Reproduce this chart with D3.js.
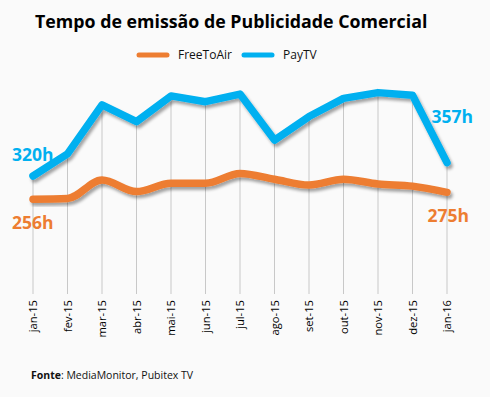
<!DOCTYPE html>
<html>
<head>
<meta charset="utf-8">
<style>
  body { margin: 0; background: #fafafa; }
  text { font-family: "Open Sans", "Noto Sans", sans-serif; }
</style>
</head>
<body>
<script src="https://d3js.org/d3.v7.min.js"></script>
<script>
  // months and monthly airtime (hours)
  var months = ["jan-15", "fev-15", "mar-15", "abr-15", "mai-15", "jun-15", "jul-15",
                "ago-15", "set-15", "out-15", "nov-15", "dez-15", "jan-16"];
  var freeToAir = [256, 258, 309, 277, 300, 300, 327, 311, 295, 311, 298, 292, 275];
  var payTV = [320, 381, 516, 470, 541, 525, 546, 419, 484, 534, 550, 543, 357];

  var orange = "#ED7D31", blue = "#00B0F0";
  var width = 490, height = 397;

  var svg = d3.select("body").append("svg")
      .attr("width", width)
      .attr("height", height);

  svg.append("rect").attr("width", width).attr("height", height).attr("fill", "#fafafa");

  var defs = svg.append("defs");
  var shadow = defs.append("filter").attr("id", "shadow")
      .attr("x", "-10%").attr("y", "-30%").attr("width", "120%").attr("height", "160%");
  shadow.append("feDropShadow")
      .attr("dx", 2).attr("dy", 3).attr("stdDeviation", 1.5)
      .attr("flood-color", "#000").attr("flood-opacity", 0.35);

  var x = d3.scalePoint().domain(months).range([33, 447]);
  var y = d3.scaleLinear().domain([0, 600]).range([292, 74.5]);
  var bottom = 294;

  // title
  svg.append("text")
      .attr("x", 35).attr("y", 28)
      .attr("font-size", "17.8px").attr("font-weight", "bold")
      .attr("fill", "#000")
      .text("Tempo de emissão de Publicidade Comercial");

  // legend
  var legend = [
    {name: "FreeToAir", color: orange, x: 139, tx: 178},
    {name: "PayTV", color: blue, x: 244, tx: 283}
  ];
  legend.forEach(function(l) {
    svg.append("line")
        .attr("x1", l.x).attr("x2", l.x + 28)
        .attr("y1", 55).attr("y2", 55)
        .attr("stroke", l.color).attr("stroke-width", 5)
        .attr("stroke-linecap", "round");
    svg.append("text")
        .attr("x", l.tx).attr("y", 59)
        .attr("font-size", "12px").attr("fill", "#111")
        .text(l.name);
  });

  // drop lines
  svg.append("g").selectAll("line")
      .data(months)
      .enter().append("line")
      .attr("x1", function(d) { return x(d); })
      .attr("x2", function(d) { return x(d); })
      .attr("y1", function(d, i) { return y(Math.max(payTV[i], freeToAir[i])); })
      .attr("y2", bottom)
      .attr("stroke", "#c8c8c8").attr("stroke-width", 1);

  // x axis labels
  var xAxis = svg.append("g")
      .attr("transform", "translate(0," + 299 + ")")
      .call(d3.axisBottom(x).tickSize(0).tickPadding(0));
  xAxis.select(".domain").remove();
  xAxis.selectAll("text")
      .attr("transform", "rotate(-90)")
      .attr("x", -1).attr("y", 0).attr("dy", "0.35em")
      .style("text-anchor", "end")
      .style("font-family", "\"Open Sans\", \"Noto Sans\", sans-serif")
      .style("font-size", "11.2px")
      .attr("fill", "#000");

  var lineFree = d3.line()
      .x(function(d, i) { return x(months[i]); })
      .y(function(d) { return y(d); })
      .curve(d3.curveMonotoneX);
  var linePay = d3.line()
      .x(function(d, i) { return x(months[i]); })
      .y(function(d) { return y(d); });

  svg.append("path")
      .datum(freeToAir)
      .attr("d", lineFree)
      .attr("fill", "none")
      .attr("stroke", orange).attr("stroke-width", 7.5)
      .attr("stroke-linecap", "round").attr("stroke-linejoin", "round")
      .attr("filter", "url(#shadow)");

  svg.append("path")
      .datum(payTV)
      .attr("d", linePay)
      .attr("fill", "none")
      .attr("stroke", blue).attr("stroke-width", 7.5)
      .attr("stroke-linecap", "round").attr("stroke-linejoin", "round")
      .attr("filter", "url(#shadow)");

  // end labels
  var labels = [
    {text: "320h", color: blue, x: 12, y: 161, anchor: "start"},
    {text: "256h", color: orange, x: 12, y: 229, anchor: "start"},
    {text: "357h", color: blue, x: 473, y: 123, anchor: "end"},
    {text: "275h", color: orange, x: 469, y: 222, anchor: "end"}
  ];
  svg.selectAll(".endlabel")
      .data(labels)
      .enter().append("text")
      .attr("class", "endlabel")
      .attr("x", function(d) { return d.x; })
      .attr("y", function(d) { return d.y; })
      .attr("text-anchor", function(d) { return d.anchor; })
      .attr("font-size", "17.5px").attr("font-weight", "bold")
      .attr("fill", function(d) { return d.color; })
      .text(function(d) { return d.text; });

  // source
  var src = svg.append("text")
      .attr("x", 31).attr("y", 379)
      .attr("font-size", "10.5px").attr("fill", "#111");
  src.append("tspan").attr("font-weight", "bold").text("Fonte");
  src.append("tspan").text(": MediaMonitor, Pubitex TV");
</script>
</body>
</html>
